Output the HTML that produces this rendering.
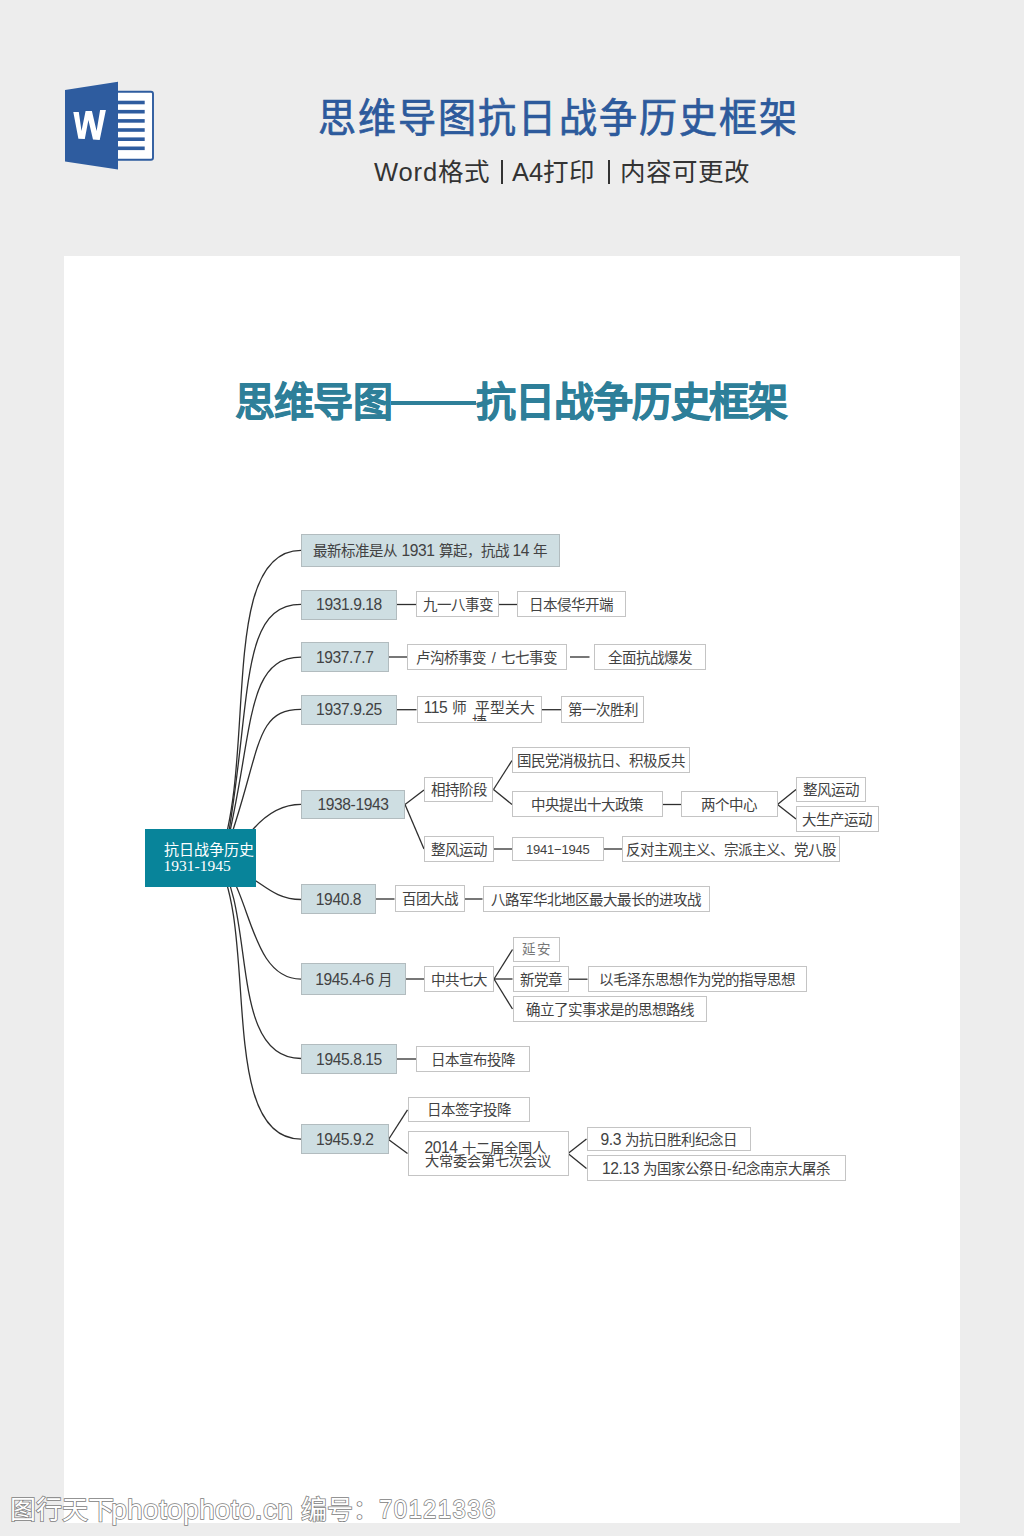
<!DOCTYPE html>
<html lang="zh-CN">
<head>
<meta charset="utf-8">
<style>
html,body{margin:0;padding:0;}
body{width:1024px;height:1536px;background:#ededed;position:relative;overflow:hidden;font-family:"Liberation Sans",sans-serif;}
#paper{position:absolute;left:64px;top:256px;width:896px;height:1267px;background:#fff;}
#htitle{position:absolute;left:318px;top:95px;font-size:38px;line-height:48px;letter-spacing:2.1px;color:#2d5a9c;white-space:nowrap;-webkit-text-stroke:0.7px #2d5a9c;transform:scaleY(1.055);transform-origin:0 40.7px;}
#hsub{position:absolute;left:0;top:155px;width:1024px;height:34px;font-size:25.5px;line-height:34px;color:#333;white-space:nowrap;}
#hsub span{position:absolute;top:0;}
#hsub i{position:absolute;top:4.6px;width:2px;height:24.6px;background:#333;}
#mtitle{position:absolute;left:0;top:377.5px;width:1024px;height:48px;font-size:40px;line-height:48px;color:#2e7f99;font-weight:bold;white-space:nowrap;}
#mtitle span{position:absolute;top:0;letter-spacing:-0.6px;-webkit-text-stroke:0.7px #2e7f99;}
#mtitle i{position:absolute;left:391px;top:23px;width:85px;height:4.5px;background:#2e7f99;}
.b{position:absolute;box-sizing:border-box;border:1px solid #c4c4c4;background:#fff;color:#424242;font-size:14.5px;line-height:18px;display:flex;align-items:center;justify-content:center;white-space:nowrap;overflow:hidden;padding-top:1.5px;}
.p{background:#cedee2;border-color:#b2bcbf;}
.sm{font-size:12.5px;}
.d{font-size:15.6px;letter-spacing:-0.4px;}
.sm .d{font-size:13px;letter-spacing:-0.2px;}
.serif{font-family:"Liberation Serif",serif;color:#777;font-size:13.5px;letter-spacing:1.5px;}
.serif span{margin-left:1.5px;}
svg{position:absolute;left:0;top:0;}
#center{position:absolute;left:145px;top:829px;width:111px;height:58px;background:#08849a;color:#fff;font-family:"Liberation Serif",serif;font-size:15px;line-height:16px;box-sizing:border-box;padding:13px 0 0 18.5px;white-space:nowrap;}
#t115{position:absolute;left:426px;top:699px;font-size:14.5px;line-height:18px;color:#424242;white-space:nowrap;}
#t115b{position:absolute;left:416.5px;top:697px;width:125.5px;height:23.5px;overflow:hidden;}
#t2014{position:absolute;left:424.5px;top:1141px;font-size:14.2px;line-height:13.2px;color:#424242;white-space:nowrap;}
#wm{position:absolute;left:0;top:1490px;width:1024px;height:46px;font-size:26px;line-height:40px;color:#fff;-webkit-text-stroke:1.6px #808080;paint-order:stroke fill;white-space:nowrap;}
#wm span{position:absolute;top:0;}
</style>
</head>
<body>
<div id="paper"></div>

<svg width="1024" height="256" style="left:0;top:0">
  <path d="M118 91.8 H151 a2 2 0 0 1 2 2 V157.7 a2 2 0 0 1 -2 2 H118" fill="#fff" stroke="#2e5c9f" stroke-width="1.9"/>
  <g fill="#2e5c9f">
    <rect x="117" y="100.7" width="27.7" height="3.6"/>
    <rect x="117" y="109.9" width="27.7" height="3.6"/>
    <rect x="117" y="119.1" width="27.7" height="3.6"/>
    <rect x="117" y="128.2" width="27.7" height="3.6"/>
    <rect x="117" y="137.4" width="27.7" height="3.6"/>
    <rect x="117" y="146.5" width="27.7" height="3.6"/>
  </g>
  <path d="M65 90 L118 81.7 L118 169.4 L65 161.4 Z" fill="#2e5c9f"/>
  <path d="M73.3 111.9 L78.8 111.9 L81.5 131 L85.6 111.1 L91.9 111.1 L96.6 131 L100.1 110.1 L105.9 110.1 L99.7 140 L93 139.6 L88.4 120.1 L84.8 139 L78.4 138.8 Z" fill="#fff"/>
</svg>
<div id="htitle">思维导图抗日战争历史框架</div>
<div id="hsub"><span style="left:374px"><b style="font-weight:normal;letter-spacing:0.9px">Word</b>格式</span><i style="left:500.5px"></i><span style="left:512px">A4打印</span><i style="left:607.7px"></i><span style="left:620px">内容可更改</span></div>

<div id="mtitle"><span style="left:234.5px">思维导图</span><i></i><span style="left:476px;letter-spacing:-1.1px">抗日战争历史框架</span></div>

<svg width="1024" height="1536" style="left:0;top:0" fill="none" stroke="#2e2e2e" stroke-width="1.3">
<path d="M219.6 857.8 C256.6 755 218.6 550.3 301 550.3"/>
<path d="M224.4 857.8 C253.1 706.8 236.7 604.3 301 604.3"/>
<path d="M223.9 857.8 C254.7 735.5 243 657.2 301 657.2"/>
<path d="M223.5 857.8 C261.9 753.4 252.1 709.3 301 709.3"/>
<path d="M250 831 C231.1 868.3 254.7 804.3 301 804.3"/>
<path d="M251 878 C263.1 884 276.1 899.5 301 899.5"/>
<path d="M213.8 857.8 C251.2 875.6 246.1 979.1 301 979.1"/>
<path d="M216.6 857.8 C256.9 910.6 227.2 1058.5 301 1058.5"/>
<path d="M215.8 857.8 C259.4 928.6 216.3 1139.1 301 1139.1"/>
<path d="M397 604.5L416 604.5"/>
<path d="M499 604.5L517.5 604.5"/>
<path d="M388.5 657L407 657"/>
<path d="M570 657L589.5 657"/>
<path d="M397 709.7L416.5 709.7"/>
<path d="M542 709.7L561 709.7"/>
<path d="M405 804.5L424 790"/>
<path d="M405 804.5L424 849"/>
<path d="M493.5 789.5L512 760.5"/>
<path d="M493.5 789.5L512 804.5"/>
<path d="M662.5 804.5L681 804.5"/>
<path d="M777.5 804.5L796 789.5"/>
<path d="M777.5 804.5L796 819"/>
<path d="M493.5 849L512 849"/>
<path d="M603.5 849L622 849"/>
<path d="M376 899L394.5 899"/>
<path d="M464.5 899L482.5 899"/>
<path d="M406 979L424 979"/>
<path d="M494 979L512.5 949.5"/>
<path d="M494 979L512.5 979"/>
<path d="M494 979L512.5 1009"/>
<path d="M569 979.2L587.5 979.2"/>
<path d="M397 1059L416 1059"/>
<path d="M388.5 1139.5L407.5 1109.8"/>
<path d="M388.5 1139.5L407.5 1153.5"/>
<path d="M568 1153.5L586.5 1139"/>
<path d="M568 1153.5L586.5 1168.5"/>
</svg>

<div class="b p" style="left:301px;top:534px;width:258.5px;height:32.5px"><span>最新标准是从 <span class="d">1931</span> 算起，抗战 <span class="d">14</span> 年</span></div>
<div class="b p" style="left:301px;top:589.5px;width:96px;height:30px"><span><span class="d">1931.9.18</span></span></div>
<div class="b p" style="left:301px;top:642px;width:87.5px;height:29.5px"><span><span class="d">1937.7.7</span></span></div>
<div class="b p" style="left:301px;top:694.5px;width:96px;height:30px"><span><span class="d">1937.9.25</span></span></div>
<div class="b p" style="left:301px;top:789.5px;width:104px;height:29.5px"><span><span class="d">1938-1943</span></span></div>
<div class="b p" style="left:301px;top:884px;width:75px;height:29.5px"><span><span class="d">1940.8</span></span></div>
<div class="b p" style="left:301px;top:962.5px;width:105px;height:32.5px"><span><span class="d">1945.4-6</span> 月</span></div>
<div class="b p" style="left:301px;top:1044px;width:96px;height:29.5px"><span><span class="d">1945.8.15</span></span></div>
<div class="b p" style="left:301px;top:1124px;width:87.5px;height:30px"><span><span class="d">1945.9.2</span></span></div>
<div class="b " style="left:416px;top:591.2px;width:83px;height:26.2px"><span>九一八事变</span></div>
<div class="b " style="left:517px;top:591.2px;width:108.5px;height:26.2px"><span>日本侵华开端</span></div>
<div class="b " style="left:407px;top:644.2px;width:159.5px;height:25.7px"><span>卢沟桥事变<i style="font-style:normal;margin:0 1.3px"> / </i>七七事变</span></div>
<div class="b " style="left:594px;top:644.2px;width:111.5px;height:25.7px"><span>全面抗战爆发</span></div>
<div class="b " style="left:416.5px;top:696.2px;width:125.5px;height:26.7px"></div>
<div class="b " style="left:561px;top:696.2px;width:83px;height:26.7px"><span>第一次胜利</span></div>
<div class="b " style="left:424px;top:777px;width:69px;height:25.4px"><span>相持阶段</span></div>
<div class="b " style="left:424px;top:835.7px;width:69.5px;height:26.2px"><span>整风运动</span></div>
<div class="b " style="left:512px;top:747.2px;width:177.5px;height:26.2px"><span>国民党消极抗日、积极反共</span></div>
<div class="b " style="left:512px;top:791.2px;width:150.5px;height:26.2px"><span>中央提出十大政策</span></div>
<div class="b " style="left:681px;top:791.2px;width:96.5px;height:26.2px"><span>两个中心</span></div>
<div class="b " style="left:796px;top:776.7px;width:69.5px;height:25.7px"><span>整风运动</span></div>
<div class="b " style="left:796px;top:805.7px;width:82.5px;height:26.2px"><span>大生产运动</span></div>
<div class="b sm" style="left:512px;top:836.7px;width:91.5px;height:24.2px"><span><span class="d">1941−1945</span></span></div>
<div class="b " style="left:622px;top:835.7px;width:218px;height:26.2px"><span>反对主观主义、宗派主义、党八股</span></div>
<div class="b " style="left:394.5px;top:885.2px;width:70px;height:26.7px"><span>百团大战</span></div>
<div class="b " style="left:482.5px;top:885.7px;width:227px;height:26.2px"><span>八路军华北地区最大最长的进攻战</span></div>
<div class="b " style="left:424px;top:965.7px;width:70px;height:26.2px"><span>中共七大</span></div>
<div class="b serif" style="left:512.5px;top:937.2px;width:47px;height:24.7px"><span>延安</span></div>
<div class="b " style="left:512.5px;top:965.7px;width:56.5px;height:26.2px"><span>新党章</span></div>
<div class="b " style="left:587.5px;top:965.7px;width:219.5px;height:26.2px"><span>以毛泽东思想作为党的指导思想</span></div>
<div class="b " style="left:512.5px;top:995.7px;width:194.5px;height:26.2px"><span>确立了实事求是的思想路线</span></div>
<div class="b " style="left:416px;top:1045.7px;width:113.5px;height:26.2px"><span>日本宣布投降</span></div>
<div class="b " style="left:407.5px;top:1096.7px;width:122px;height:25.7px"><span>日本签字投降</span></div>
<div class="b " style="left:407.5px;top:1130.7px;width:161px;height:45.7px"></div>
<div class="b " style="left:586.5px;top:1127px;width:164.5px;height:24px"><span><span class="d">9.3</span> 为抗日胜利纪念日</span></div>
<div class="b " style="left:586.5px;top:1155px;width:259px;height:26px"><span><span class="d">12.13</span> 为国家公祭日-纪念南京大屠杀</span></div>
<div id="t115b"><div style="position:absolute;left:0;top:3.5px;width:125.5px;text-align:center;font-size:14.8px;line-height:14.6px;color:#424242;"><span class="d">115</span> 师&nbsp; 平型关大<br>捷</div></div>
<div id="t2014"><span class="d">2014</span> 十二届全国人<br>大常委会第七次会议</div>
<div id="center">抗日战争历史<br><span style="font-size:15.5px">1931-1945</span></div>

<div id="wm"><span id="w1" style="left:10px">图行天下</span><span id="w2" style="left:111.2px;font-size:28px;letter-spacing:0.35px">photophoto.cn</span><span id="w3" style="left:301px">编号：</span><span id="w4" style="left:378.5px;top:-0.7px;font-size:26.5px;letter-spacing:1.6px;transform:scaleX(0.9);transform-origin:0 0">70121336</span></div>
</body>
</html>
